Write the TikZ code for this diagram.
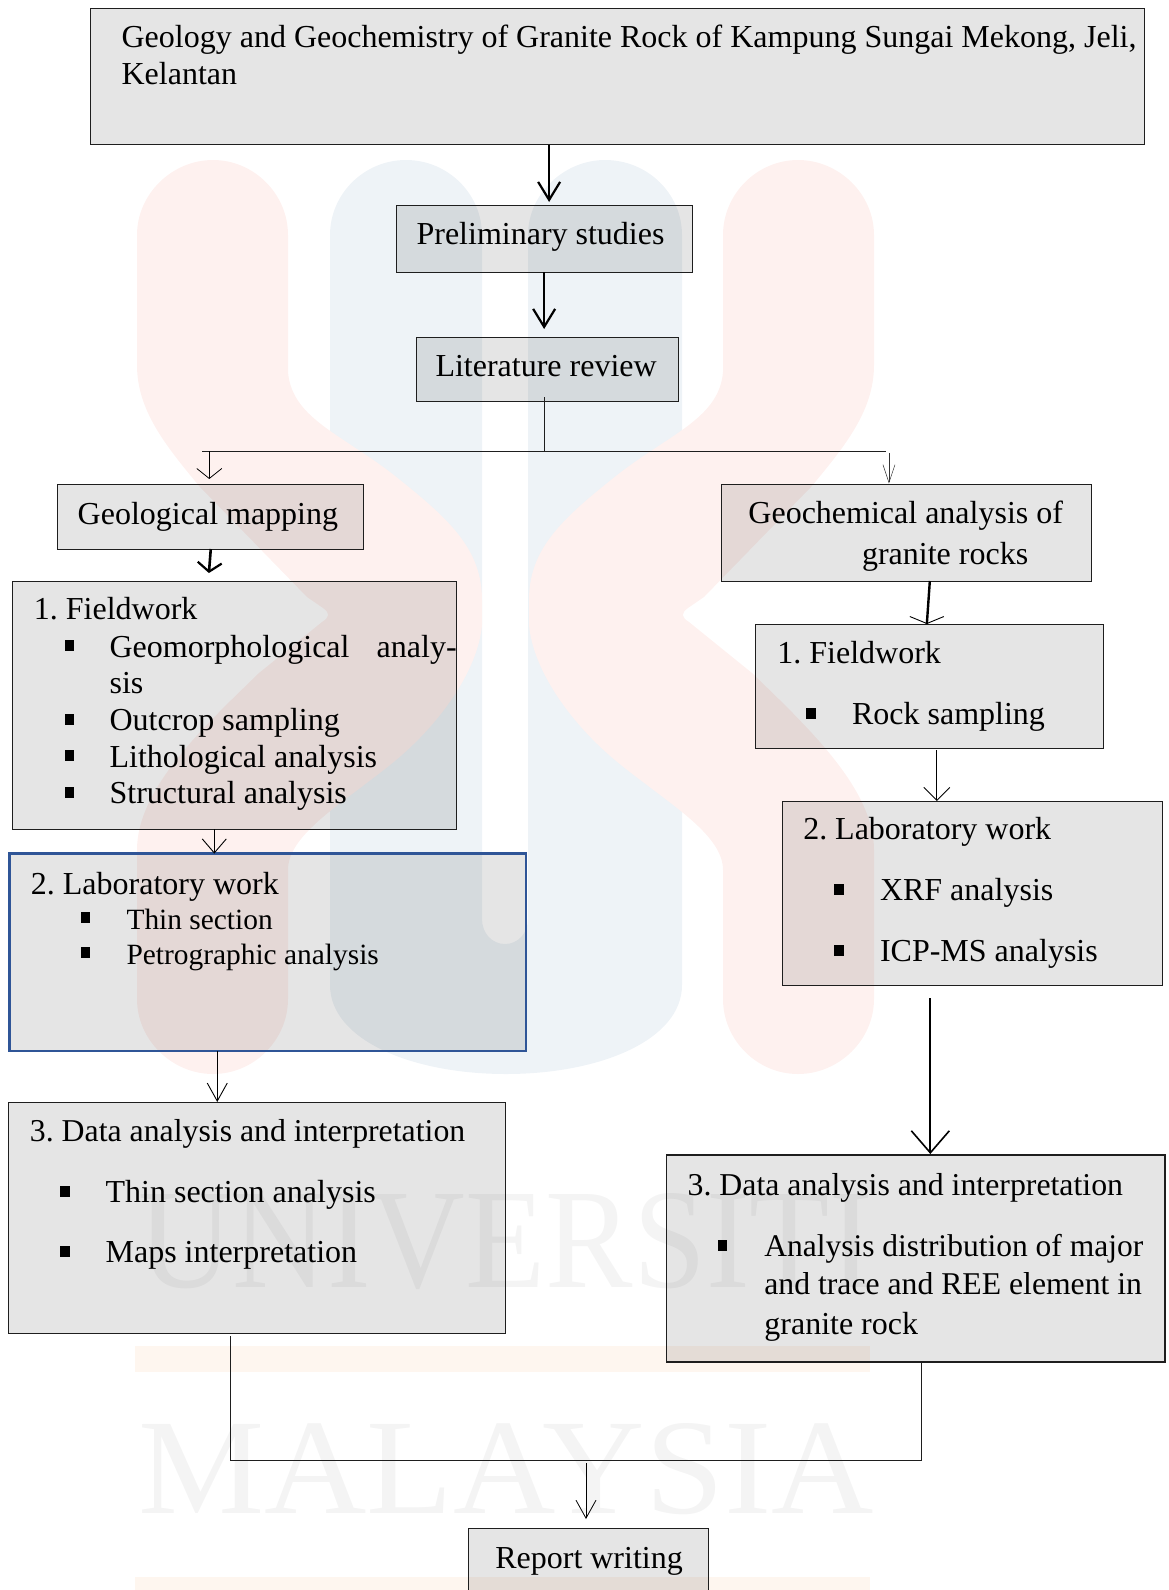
\documentclass[tikz,border=0pt]{standalone}
\usepackage{graphicx}
\usepackage{fontspec}
\setmainfont{Liberation Serif}
\usetikzlibrary{arrows.meta,calc}
\definecolor{wmred}{HTML}{FEF1EF}
\definecolor{wmblue}{HTML}{EEF3F7}
\definecolor{wmgray}{HTML}{F4F4F4}
\definecolor{wmorange}{HTML}{FEF6EF}
\definecolor{labblue}{HTML}{2F5597}
\definecolor{inkline}{HTML}{1E1E1E}
\newcommand{\Sx}[1]{\dimexpr #1pt*9966/10000\relax}
% text inside a box: x from the left edge, baseline from the top edge
\newcommand{\Ln}[3]{\rlap{\hspace*{\Sx{#1}}\raisebox{\dimexpr-#2pt-.8pt\relax}{#3}}\ignorespaces}
\newcommand{\Bu}[2]{\rlap{\hspace*{\Sx{#1}}\raisebox{\dimexpr-#2pt+5.5pt\relax}{\rule{9.5pt}{11pt}}}\ignorespaces}
\newcommand{\Cnt}[3]{\vbox to #2pt{\hbox to \Sx{#1}{#3\hfil}\vfil}}
\newcommand{\Kpath}{(137,235) .. controls (137,194) and (172,160) .. (213,160)
   .. controls (254,160) and (288,194) .. (288,235) -- (288,372)
   .. controls (292,420) and (345,435) .. (400,480)
   .. controls (450,520) and (482,550) .. (482,600) -- (482,625)
   .. controls (478,670) and (440,725) .. (390,765)
   .. controls (340,805) and (288,835) .. (288,870) -- (288,999)
   .. controls (288,1040) and (254,1074) .. (213,1074)
   .. controls (172,1074) and (137,1040) .. (137,999) -- (137,850)
   .. controls (137,790) and (200,730) .. (259,673) -- (322,622)
   .. controls (330,617) and (330,613) .. (323,608) -- (307,597) -- (200,487)
   .. controls (165,445) and (137,410) .. (137,365) -- cycle}
\tikzset{
  x=.9966pt,y=-1pt,
  boxnode/.style={draw=inkline,line width=.95pt,fill=black,fill opacity=.1,text opacity=1,
    inner sep=0pt,outer sep=0pt,anchor=north west,font=\fontsize{32}{37}\selectfont},
  labnode/.style={boxnode,draw=labblue,line width=2.4pt},
  wmtext/.style={inner sep=0pt,outer sep=0pt,anchor=north west,text=wmgray},
  heavyarrow/.style={line width=2.6pt,-{Straight Barb[length=18pt,width=22pt,line width=2.2pt]}},
  thinarrow/.style={line width=.9pt,-{Straight Barb[length=20pt,width=20pt,line width=.8pt]}},
  hairarrow/.style={line width=.6pt,draw=black!80,-{Straight Barb[length=18pt,width=12pt,line width=.5pt]}},
  wire/.style={line width=.95pt,draw=inkline},
}
\begin{document}
\begin{tikzpicture}
\frenchspacing
\useasboundingbox (0,0) rectangle (1172,1590);
% ---------- watermark ----------
\begin{scope}[x=1pt]
\fill[wmblue] (330,235) .. controls (330,194) and (364,160) .. (406,160)
   .. controls (448,160) and (482,194) .. (482,235) -- (482,919)
   .. controls (482,933) and (492,944) .. (505,944)
   .. controls (518,944) and (528,933) .. (528,919) -- (528,235)
   .. controls (528,194) and (564,160) .. (605,160)
   .. controls (648,160) and (682,194) .. (682,235) -- (682,985)
   .. controls (682,1040) and (600,1074) .. (506,1074)
   .. controls (412,1074) and (330,1040) .. (330,985) -- cycle;
\fill[wmred] \Kpath;
\fill[wmred,shift={(1011pt,0pt)},xscale=-1] \Kpath;
\fill[wmorange] (135,1346) rectangle (870,1372);
\fill[wmorange] (135,1577) rectangle (870,1600);
\node[wmtext] (wmuniv) at (138,1193) {\resizebox{735pt}{94pt}{UNIVERSITI}};
\node[wmtext] (wmmal) at (138,1423) {\resizebox{735pt}{90pt}{MALAYSIA}};
\end{scope}
% ---------- boxes ----------
\node[boxnode] (title) at (91,8) {\Cnt{1057}{136.5}{%
  \Ln{31}{38.7}{Geology and Geochemistry of Granite Rock of Kampung Sungai Mekong, Jeli,}
  \Ln{31}{75.5}{Kelantan}}};
\node[boxnode] (prelim) at (398,205) {\Cnt{297}{67}{\Ln{20}{38.8}{Preliminary studies}}};
\node[boxnode] (lit) at (418,337) {\Cnt{263}{64}{\Ln{19}{39}{Literature review}}};
\node[boxnode] (geomap) at (57.5,484) {\Cnt{307.5}{65}{\Ln{20.5}{39.5}{Geological mapping}}};
\node[boxnode] (geochem) at (723.5,484.5) {\Cnt{371.5}{96.5}{%
  \Ln{27.5}{38.5}{Geochemical analysis of}
  \Ln{141.5}{79}{granite rocks}}};
\node[boxnode] (fieldA) at (12.7,581) {\Cnt{445.3}{248}{%
  \Ln{21.3}{38}{1. Fieldwork}
  \Bu{52.3}{75.4}\Ln{97.3}{75.4}{\makebox[347pt][s]{Geomorphological\hfil analy-}}
  \Ln{97.3}{112}{sis}
  \Bu{52.3}{149}\Ln{97.3}{149}{Outcrop sampling}
  \Bu{52.3}{185.5}\Ln{97.3}{185.5}{Lithological analysis}
  \Bu{52.3}{222}\Ln{97.3}{222}{Structural analysis}}};
\node[labnode] (labA) at (9.7,853.6) {\Cnt{517.9}{197.4}{%
  \Ln{21.3}{40.4}{2. Laboratory work}
  \Bu{71.3}{75}\Ln{117.3}{75}{\fontsize{29.4}{35}\selectfont Thin section}
  \Bu{71.3}{110}\Ln{117.3}{110}{\fontsize{29.4}{35}\selectfont Petrographic analysis}}};
\node[boxnode] (dataA) at (9,1102) {\Cnt{498}{231}{%
  \Ln{21}{38.5}{\fontsize{31.8}{37}\selectfont 3. Data analysis and interpretation}
  \Bu{51.5}{100}\Ln{97}{100}{Thin section analysis}
  \Bu{51.5}{160}\Ln{97}{160}{Maps interpretation}}};
\node[boxnode] (fieldB) at (758,624) {\Cnt{349}{124}{%
  \Ln{22}{39}{1. Fieldwork}
  \Bu{51}{100}\Ln{97}{100}{Rock sampling}}};
\node[boxnode] (labB) at (785.5,801) {\Cnt{381}{184}{%
  \Ln{20.5}{38}{2. Laboratory work}
  \Bu{51.5}{99}\Ln{97.5}{99}{XRF analysis}
  \Bu{51.5}{160}\Ln{97.5}{160}{ICP-MS analysis}}};
\node[boxnode,line width=1.5pt] (dataB) at (669,1155) {\Cnt{500}{207}{%
  \Ln{21}{39.5}{\fontsize{31.8}{37}\selectfont 3. Data analysis and interpretation}
  \Bu{51}{101}\Ln{98}{101}{\fontsize{31.5}{37}\selectfont Analysis distribution of major}
  \Ln{98}{139}{\fontsize{31.7}{37}\selectfont and trace and REE element in}
  \Ln{98}{179}{granite rock}}};
\node[boxnode] (report) at (470,1528) {\Cnt{241}{72}{\Ln{27}{39.5}{Report writing}}};
% ---------- connector anchors ----------
\coordinate (split) at (546,451);
\coordinate (splitL) at (203,451);
\coordinate (splitR) at (889,451);
\coordinate (tapL) at (210,451);
\coordinate (tapR) at (892,451);
\coordinate (xTitle) at (551,0);
\coordinate (xMapA) at (211.5,0);
\coordinate (xMapB) at (209,0);
\coordinate (xChemA) at (933,0);
\coordinate (xChemB) at (930,0);
\coordinate (xFieldA) at (215,0);
\coordinate (xLabA) at (218,0);
\coordinate (xFieldB) at (940,0);
\coordinate (xLabB) at (933.5,0);
\coordinate (xDataA) at (231,0);
\coordinate (xDataB) at (925,0);
\coordinate (join) at (588,1460);
\coordinate (joinA) at (231,1460);
\coordinate (joinB) at (925,1460);
% ---------- connectors ----------
\draw[heavyarrow,shorten >=3pt] (title.south -| xTitle) -- (prelim.north -| xTitle);
\draw[heavyarrow,shorten >=8pt] (prelim.south -| split) -- (lit.north -| split);
\draw[wire,shorten <=-4pt] (lit.south -| split) -- (split);
\draw[wire] (splitL) -- (splitR);
\draw[thinarrow,shorten >=5pt,shorten <=2pt,-{Straight Barb[length=10pt,width=25pt,line width=.8pt]}] (tapL) ++(0,-2) -- (geomap.north -| tapL);
\draw[hairarrow,shorten >=1pt,shorten <=2pt] (tapR) -- (geochem.north -| tapR);
\draw[heavyarrow,shorten >=8pt,-{Straight Barb[length=9pt,width=24pt,line width=2.2pt]}] (geomap.south -| xMapA) -- (fieldA.north -| xMapB);
\draw[line width=2.4pt] (geochem.south -| xChemA) -- (fieldB.north -| xChemB);
\draw[-{Straight Barb[length=7pt,width=34pt,line width=.9pt]},line width=.9pt] ($(fieldB.north -| xChemB)+(0,-4)$) -- (fieldB.north -| xChemB);
\draw[thinarrow,-{Straight Barb[length=13pt,width=26pt,line width=.9pt]}] (fieldB.south -| xFieldB) ++(0,2) -- (labB.north -| xFieldB);
\draw[thinarrow,-{Straight Barb[length=14pt,width=24pt,line width=.9pt]}] (fieldA.south -| xFieldA) -- (labA.north -| xFieldA);
\draw[thinarrow,-{Straight Barb[length=18pt,width=20pt,line width=.9pt]}] (labA.south -| xLabA) -- (dataA.north -| xLabA);
\draw[line width=1.8pt,-{Straight Barb[length=22pt,width=38pt,line width=1.6pt]},shorten >=1pt] (labB.south -| xLabB) ++(0,13) -- (dataB.north -| xLabB);
\draw[wire,shorten <=3pt] (dataA.south -| xDataA) -- (joinA) -- (joinB) -- (dataB.south -| xDataB);
\draw[thinarrow,shorten >=9pt,-{Straight Barb[length=18pt,width=20pt,line width=.8pt]}] (join) ++(0,3) -- (report.north -| join);
\end{tikzpicture}
\end{document}
